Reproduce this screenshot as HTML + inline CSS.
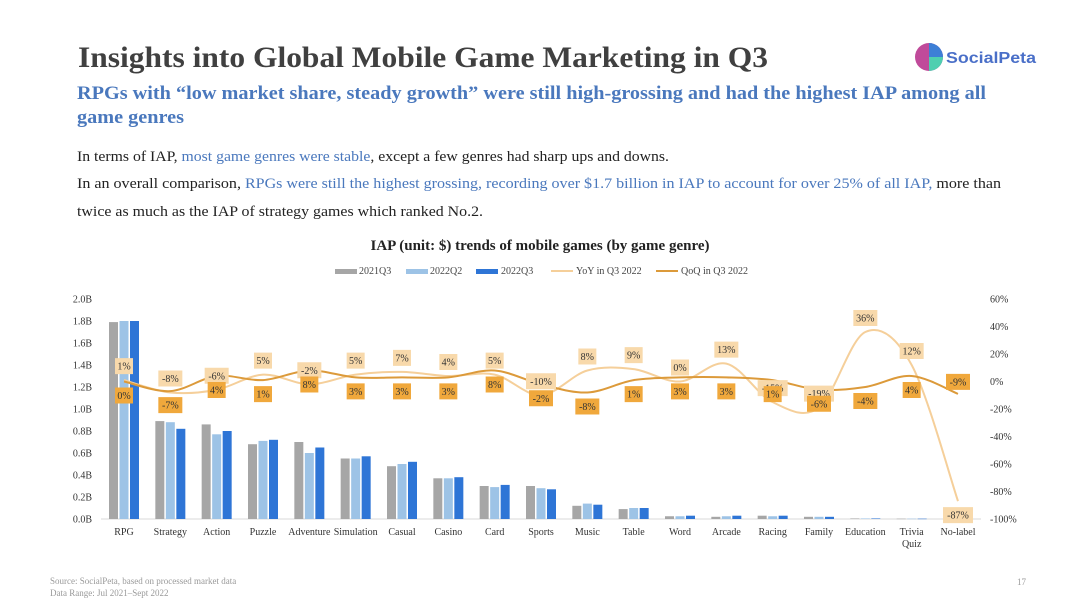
<!DOCTYPE html>
<html><head><meta charset="utf-8"><style>
html,body{margin:0;padding:0;background:#fff;width:1080px;height:608px;overflow:hidden}
svg text{font-family:"Liberation Serif",serif}
</style></head><body>
<svg id="s" width="1080" height="608" viewBox="0 0 1080 608" xmlns="http://www.w3.org/2000/svg">
<text x="78" y="67" font-size="30" font-weight="bold" fill="#404040" textLength="690" lengthAdjust="spacingAndGlyphs">Insights into Global Mobile Game Marketing in Q3</text>
<g>
<circle cx="929" cy="57" r="14" fill="#c04a9a"/>
<path d="M929 43 A14 14 0 0 1 943 57 L929 57Z" fill="#3d7fd6"/>
<path d="M943 57 A14 14 0 0 1 929 71 L929 57Z" fill="#4ecfb0"/>
<text x="946" y="63" font-size="16" font-weight="bold" fill="#4a6fc8" style="font-family:'Liberation Sans',sans-serif" textLength="90" lengthAdjust="spacingAndGlyphs">SocialPeta</text>
</g>
<text x="77" y="99" font-size="19" font-weight="bold" fill="#4a78bd" textLength="909" lengthAdjust="spacingAndGlyphs">RPGs with “low market share, steady growth” were still high-grossing and had the highest IAP among all</text>
<text x="77" y="123" font-size="19" font-weight="bold" fill="#4a78bd" textLength="107" lengthAdjust="spacingAndGlyphs">game genres</text>
<text x="77" y="161" font-size="15" fill="#222" textLength="592" lengthAdjust="spacingAndGlyphs">In terms of IAP, <tspan fill="#4a78bd">most game genres were stable</tspan>, except a few genres had sharp ups and downs.</text>
<text x="77" y="188" font-size="15" fill="#222" textLength="924" lengthAdjust="spacingAndGlyphs">In an overall comparison, <tspan fill="#4a78bd">RPGs were still the highest grossing, recording over $1.7 billion in IAP to account for over 25% of all IAP,</tspan> more than</text>
<text x="77" y="216" font-size="15" fill="#222" textLength="406" lengthAdjust="spacingAndGlyphs">twice as much as the IAP of strategy games which ranked No.2.</text>
<text x="540" y="250" font-size="15" font-weight="bold" fill="#222" text-anchor="middle">IAP (unit: $) trends of mobile games (by game genre)</text>
<g font-size="10" fill="#444">
<g><rect x="335" y="269" width="22" height="5" fill="#a6a6a6"/><text x="359" y="274">2021Q3</text></g>
<g><rect x="406" y="269" width="22" height="5" fill="#9dc3e6"/><text x="430" y="274">2022Q2</text></g>
<g><rect x="476" y="269" width="22" height="5" fill="#2e75d6"/><text x="501" y="274">2022Q3</text></g>
<g><line x1="551" y1="271" x2="573" y2="271" stroke="#f5cf9a" stroke-width="2"/><text x="576" y="274">YoY in Q3 2022</text></g>
<g><line x1="656" y1="271" x2="678" y2="271" stroke="#dc9a3a" stroke-width="2"/><text x="681" y="274">QoQ in Q3 2022</text></g>
</g>
<g id="plot"></g>
<text x="50" y="584" font-size="9" fill="#999">Source: SocialPeta, based on processed market data</text>
<text x="50" y="596" font-size="9" fill="#999">Data Range: Jul 2021–Sept 2022</text>
<text x="1017" y="585" font-size="9" fill="#999">17</text>
</svg>
<script>
const categories=["RPG","Strategy","Action","Puzzle","Adventure","Simulation","Casual","Casino","Card","Sports","Music","Table","Word","Arcade","Racing","Family","Education","Trivia Quiz","No-label"];
const iap2021Q3=[1.79,0.89,0.86,0.68,0.70,0.55,0.48,0.37,0.30,0.30,0.12,0.09,0.025,0.02,0.03,0.02,0.005,0.003,0.002];
const iap2022Q2=[1.80,0.88,0.77,0.71,0.60,0.55,0.50,0.37,0.29,0.28,0.14,0.10,0.025,0.025,0.025,0.02,0.005,0.003,0.002];
const iap2022Q3=[1.80,0.82,0.80,0.72,0.65,0.57,0.52,0.38,0.31,0.27,0.13,0.10,0.03,0.03,0.03,0.02,0.005,0.003,0.002];
const yoy=[1,-8,-6,5,-2,5,7,4,5,-10,8,9,0,13,-15,-19,36,12,-87];
const qoq=[0,-7,4,1,8,3,3,3,8,-2,-8,1,3,3,1,-6,-4,4,-9];
const leftTicks=["0.0B","0.2B","0.4B","0.6B","0.8B","1.0B","1.2B","1.4B","1.6B","1.8B","2.0B"];
const rightTicks=["-100%","-80%","-60%","-40%","-20%","0%","20%","40%","60%"];

const NS="http://www.w3.org/2000/svg";
const plot=document.getElementById('plot');
const top_=299,bot=519;
const yL=v=>bot-(v/2.0)*(bot-top_);
const yR=p=>bot-((p+100)/160)*(bot-top_);
const xC=i=>124+i*(958-124)/(categories.length-1);
function mk(tag,attrs,parent){const e=document.createElementNS(NS,tag);for(const k in attrs)e.setAttribute(k,attrs[k]);(parent||plot).appendChild(e);return e;}

const axis=mk('line',{x1:101,y1:bot,x2:981,y2:bot,stroke:'#d9d9d9','stroke-width':1});


leftTicks.forEach((t,i)=>{const e=mk('text',{x:92,y:yL(i*0.2)+3.5,'font-size':10,'text-anchor':'end',fill:'#333'});e.textContent=t;

});
rightTicks.forEach((t,i)=>{const e=mk('text',{x:990,y:yR(-100+i*20)+3.5,'font-size':10,fill:'#333'});e.textContent=t;

});

const series=[[iap2021Q3,'#a6a6a6','bar-2021q3'],[iap2022Q2,'#9dc3e6','bar-2022q2'],[iap2022Q3,'#2e75d6','bar-2022q3']];
categories.forEach((c,i)=>{
  series.forEach((s,j)=>{const v=s[0][i];const y=yL(v);
    const r=mk('rect',{x:xC(i)-15+j*10.5,y:y,width:9,height:Math.max(bot-y,0.5),fill:s[1]});
    
    });
  const lines=c.split(' ');
  lines.forEach((ln,k)=>{const e=mk('text',{x:xC(i),y:535+k*12,'font-size':10,'text-anchor':'middle',fill:'#333'});e.textContent=ln;
  
  });
});

function smooth(vals){const p=vals.map((v,i)=>[xC(i),yR(v)]);let d='M'+p[0][0]+','+p[0][1];
  for(let i=0;i<p.length-1;i++){const p0=p[i-1]||p[i],p1=p[i],p2=p[i+1],p3=p[i+2]||p2;
    const c1=[p1[0]+(p2[0]-p0[0])/6,p1[1]+(p2[1]-p0[1])/6],c2=[p2[0]-(p3[0]-p1[0])/6,p2[1]-(p3[1]-p1[1])/6];
    d+=` C${c1[0]},${c1[1]} ${c2[0]},${c2[1]} ${p2[0]},${p2[1]}`;}return d;}
const ly=mk('path',{d:smooth(yoy),fill:'none',stroke:'#f5cf9a','stroke-width':2});


const lq=mk('path',{d:smooth(qoq),fill:'none',stroke:'#dc9a3a','stroke-width':2});



function label(x,y,txt,bg,name){const g=mk('g',{});
  
  
  const w=txt.length*6+6;mk('rect',{x:x-w/2,y:y-8,width:w,height:16,fill:bg},g);
  const t=mk('text',{x:x,y:y+3.5,'font-size':10,'text-anchor':'middle',fill:'#333'},g);t.textContent=txt;}
const swapped=i=>yoy[i]<qoq[i]-30;
categories.forEach((c,i)=>{
  const a=yR(yoy[i]);
  label(xC(i),swapped(i)?a+14:a-14,yoy[i]+'%','#f8d9ab','yoy-value-label');
});
categories.forEach((c,i)=>{
  const b=yR(qoq[i]);
  label(xC(i),swapped(i)?b-12:b+14,qoq[i]+'%','#f0a83c','qoq-value-label');
});
</script>
</body></html>
